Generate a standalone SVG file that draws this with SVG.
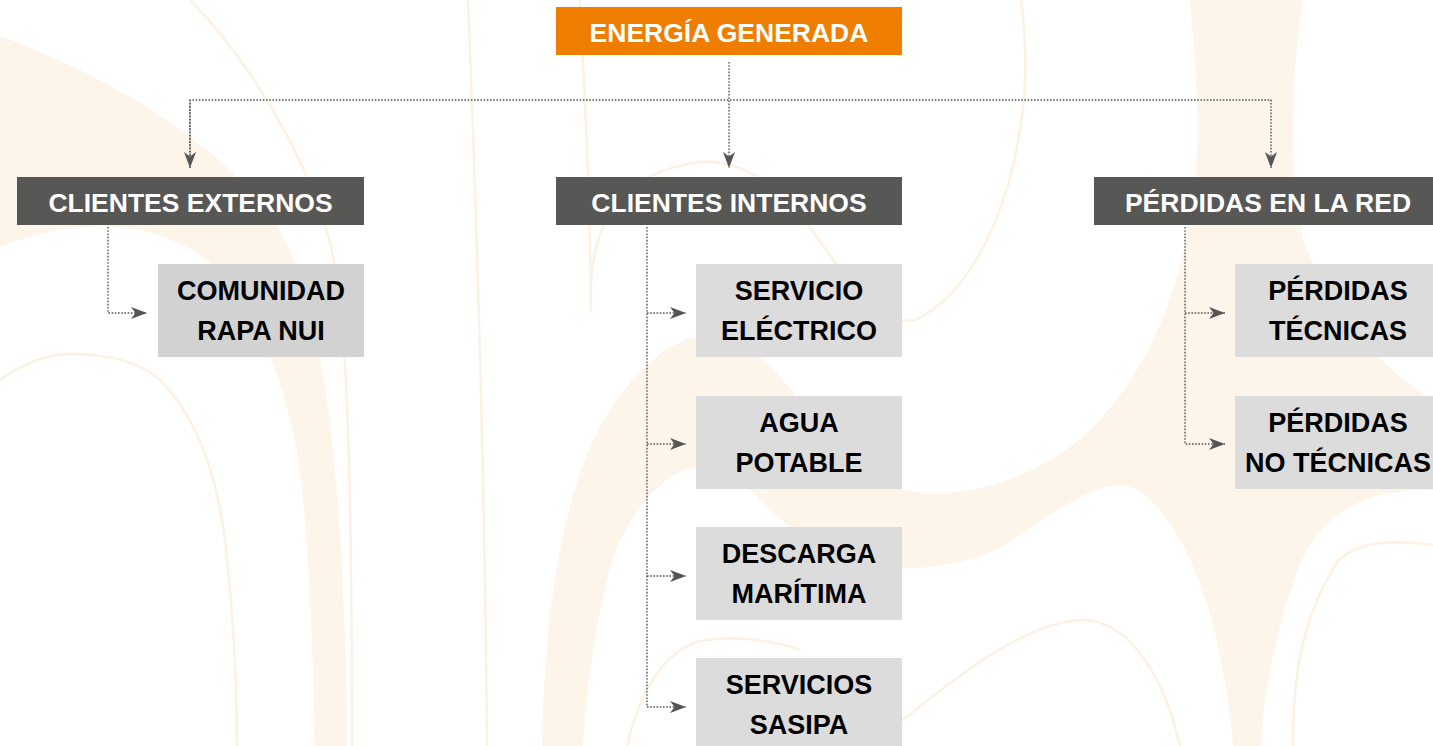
<svg xmlns="http://www.w3.org/2000/svg" width="1433" height="746" viewBox="0 0 1433 746">
<defs>
<style>
.bgfill{fill:#FDF4EA;stroke:none}
.bgline{fill:none;stroke:#FDF1E4;stroke-width:2.5}
.top{fill:#EF7D00}
.head{fill:#575756}
.leaf{fill:#DDDCDC}
.leaf2{fill:#D2D2D2}
.ht{font-family:"Liberation Sans",Arial,sans-serif;font-weight:700;font-size:26.5px;fill:#FFFFFF;text-anchor:middle}
.lt{font-family:"Liberation Sans",Arial,sans-serif;font-weight:700;font-size:27px;fill:#000000;text-anchor:middle}
.conn{fill:none;stroke:#555555;stroke-width:1.4;stroke-dasharray:1.6 1.6}
</style>
<marker id="ah" markerUnits="userSpaceOnUse" markerWidth="17" markerHeight="13" refX="16" refY="6" orient="auto">
<path d="M0,0 L16,6 L0,12 L4.5,6 Z" fill="#555555"/>
</marker>
</defs>
<rect width="1433" height="746" fill="#FFFFFF"/>
<g id="background">
<path class="bgfill" d="M0,36 C120,80 250,160 290,250 C330,340 345,520 347,746 L315,746 C312,600 305,470 290,420 C270,340 245,285 200,255 C150,222 80,215 0,247 Z"/>
<path class="bgfill" d="M542,746 C545,600 565,480 610,410 C640,365 675,335 712,335 C760,340 795,395 830,440 C858,475 890,492 930,494 C985,494 1050,470 1092,428 C1150,370 1190,280 1197,150 C1199,80 1192,30 1190,0 L1303,0 C1290,80 1288,190 1305,245 C1325,300 1380,370 1433,400 L1433,490 C1370,488 1320,510 1298,570 C1275,630 1263,700 1261,746 L1233,746 C1228,680 1210,590 1180,540 C1160,505 1140,485 1120,485 C1080,487 1040,525 1000,548 C960,566 920,572 880,565 C840,560 800,540 765,505 C745,483 722,466 700,466 C668,470 640,500 620,540 C600,590 588,670 583,746 Z"/>
<path class="bgline" d="M190,0 C240,50 300,140 329,238 C345,300 352,420 352,746"/>
<path class="bgline" d="M0,380 C25,362 50,354 71,354 C110,354 140,362 160,380 C190,410 215,460 225,540 C233,610 237,680 237,746"/>
<path class="bgline" d="M468,0 C478,250 485,500 487,746"/>
<path class="bgline" d="M580,0 C585,100 590,200 591,312"/>
<path class="bgline" d="M591,305 C588,225 620,172 700,162 C760,158 800,210 840,270 C865,305 890,325 915,320 C960,300 1010,230 1024,100 C1027,60 1024,20 1021,0"/>
<path class="bgline" d="M627,746 C640,690 665,648 705,640 C740,635 770,640 800,650"/>
<path class="bgline" d="M870,746 C930,700 1010,625 1080,620 C1130,618 1165,680 1180,746"/>
<path class="bgline" d="M1293,746 C1293,680 1300,620 1338,561 C1360,540 1395,540 1433,545"/>
</g>
<g id="connectors">
<path class="conn" d="M729,62 L729,168" marker-end="url(#ah)"/>
<path class="conn" d="M190,168 L190,100 L1271,100 L1271,168" marker-end="url(#ah)"/>
<path class="conn" d="M190,100 L190,168" marker-end="url(#ah)"/>
<path class="conn" d="M108,227 L108,313 L147,313" marker-end="url(#ah)"/>
<path class="conn" d="M647,227 L647,707 L686,707" marker-end="url(#ah)"/>
<path class="conn" d="M647,313 L686,313" marker-end="url(#ah)"/>
<path class="conn" d="M647,444 L686,444" marker-end="url(#ah)"/>
<path class="conn" d="M647,576 L686,576" marker-end="url(#ah)"/>
<path class="conn" d="M1185,227 L1185,444 L1225,444" marker-end="url(#ah)"/>
<path class="conn" d="M1185,313 L1225,313" marker-end="url(#ah)"/>
</g>
<g id="energia-generada">
<rect class="top" x="556" y="7" width="346" height="48"/>
<text class="ht" x="729" y="42">ENERGÍA GENERADA</text>
</g>
<g id="clientes-externos">
<rect class="head" x="17" y="177" width="347" height="48"/>
<text class="ht" x="190.5" y="212">CLIENTES EXTERNOS</text>
</g>
<g id="clientes-internos">
<rect class="head" x="556" y="177" width="346" height="48"/>
<text class="ht" x="729" y="212">CLIENTES INTERNOS</text>
</g>
<g id="perdidas-red">
<rect class="head" x="1094" y="177" width="346" height="48"/>
<text class="ht" x="1268" y="212">PÉRDIDAS EN LA RED</text>
</g>
<g id="comunidad-rapa-nui">
<rect class="leaf2" x="158" y="264" width="206" height="93"/>
<text class="lt" x="261" y="300">COMUNIDAD</text>
<text class="lt" x="261" y="340">RAPA NUI</text>
</g>
<g id="servicio-electrico">
<rect class="leaf" x="696" y="264" width="206" height="93"/>
<text class="lt" x="799" y="300">SERVICIO</text>
<text class="lt" x="799" y="340">ELÉCTRICO</text>
</g>
<g id="agua-potable">
<rect class="leaf" x="696" y="396" width="206" height="93"/>
<text class="lt" x="799" y="432">AGUA</text>
<text class="lt" x="799" y="472">POTABLE</text>
</g>
<g id="descarga-maritima">
<rect class="leaf" x="696" y="527" width="206" height="93"/>
<text class="lt" x="799" y="563">DESCARGA</text>
<text class="lt" x="799" y="603">MARÍTIMA</text>
</g>
<g id="servicios-sasipa">
<rect class="leaf" x="696" y="658" width="206" height="93"/>
<text class="lt" x="799" y="694">SERVICIOS</text>
<text class="lt" x="799" y="734">SASIPA</text>
</g>
<g id="perdidas-tecnicas">
<rect class="leaf" x="1235" y="264" width="206" height="93"/>
<text class="lt" x="1338" y="300">PÉRDIDAS</text>
<text class="lt" x="1338" y="340">TÉCNICAS</text>
</g>
<g id="perdidas-no-tecnicas">
<rect class="leaf" x="1235" y="396" width="206" height="93"/>
<text class="lt" x="1338" y="432">PÉRDIDAS</text>
<text class="lt" x="1338" y="472">NO TÉCNICAS</text>
</g>
</svg>
